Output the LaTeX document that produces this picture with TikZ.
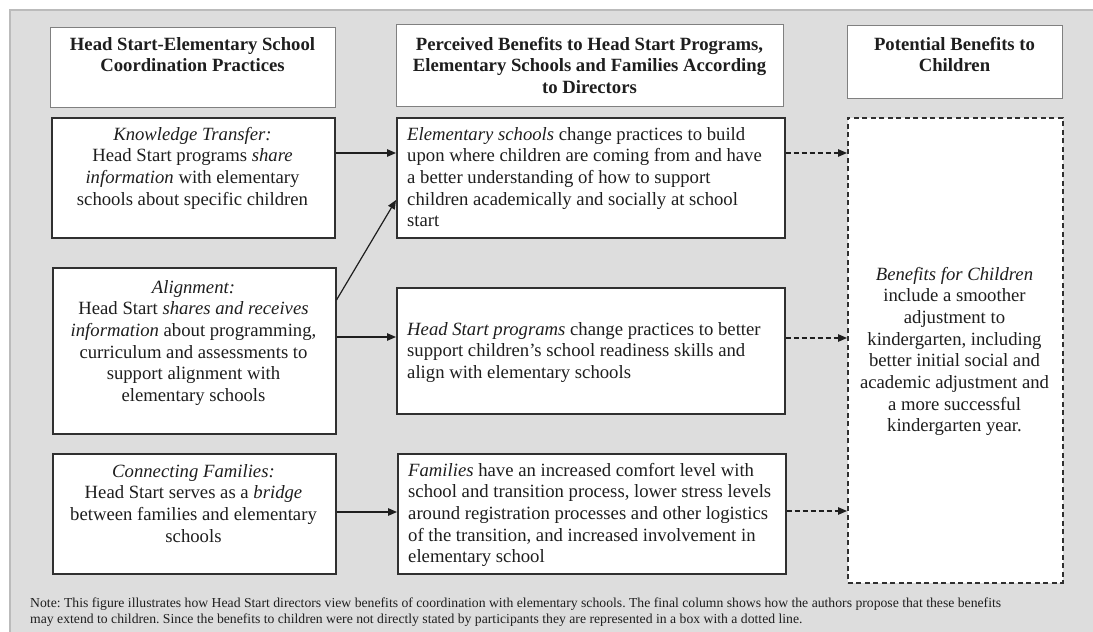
\documentclass[tikz,border=0pt]{standalone}
\usepackage{fontspec}
\setmainfont{Liberation Serif}
\usetikzlibrary{arrows.meta}
\definecolor{panel}{HTML}{DDDDDD}
\definecolor{panelline}{HTML}{BBBBBB}
\definecolor{ink}{HTML}{1E1E1E}
\definecolor{hdrline}{HTML}{808080}
\definecolor{boxline}{HTML}{303030}
\frenchspacing
\begin{document}
\begin{tikzpicture}[x=1pt,y=-1pt,
 hdr/.style={draw=hdrline, line width=1.1pt, fill=white, inner sep=0pt, anchor=north west},
 box/.style={draw=boxline, line width=1.5pt, fill=white, inner sep=0pt, anchor=north west},
 dbox/.style={box, dash pattern=on 5pt off 3.5pt},
 txt/.style={inner sep=0pt, anchor=base, align=center, text=ink, font=\fontsize{18.7}{21.7}\selectfont},
 ltxt/.style={txt, anchor=base west, align=left},
 htxt/.style={txt, font=\fontsize{18.7}{21.7}\selectfont\bfseries},
 notetxt/.style={inner sep=0pt, anchor=base west, align=left, text=ink, font=\fontsize{13.7}{16.5}\selectfont},
 conn/.style={draw=ink, line width=1.2pt, -{Triangle[length=9pt,width=7.5pt]}},
 dconn/.style={conn, dash pattern=on 5pt off 3pt},
]
\useasboundingbox (0,0) rectangle (1093,632);
% panel
\fill[panel] (10,10) rectangle (1100,640);
\draw[panelline, line width=1.5pt] (1100,10) -- (10,10) -- (10,640);

% headers (text nodes anchored at the baseline of their last line)
\node[hdr, minimum width=285pt, minimum height=80pt] (h1) at (50,27) {};
\node[hdr, minimum width=387pt, minimum height=82pt] (h2) at (396,24) {};
\node[hdr, minimum width=215pt, minimum height=73pt] (h3) at (847,25) {};
\node[htxt] (h1t) at (192.5,71.7) {Head Start-Elementary School\\Coordination Practices};
\node[htxt] (h2t) at (589.5,93.4) {Perceived Benefits to Head Start Programs,\\Elementary Schools and Families According\\to Directors};
\node[htxt] (h3t) at (954.5,71.7) {Potential Benefits to\\Children};

% left column
\node[box, minimum width=283pt, minimum height=120pt] (kt) at (51,117) {};
\node[box, minimum width=283pt, minimum height=166pt] (al) at (52,267) {};
\node[box, minimum width=283pt, minimum height=120pt] (cf) at (52,453) {};
\node[txt] (ktt) at (192.5,205.1) {\textit{Knowledge Transfer:}\\Head Start programs \textit{share}\\\textit{information} with elementary\\schools about specific children};
\node[txt] (alt) at (193.5,401.5) {\textit{Alignment:}\\Head Start \textit{shares and receives}\\\textit{information} about programming,\\curriculum and assessments to\\support alignment with\\elementary schools};
\node[txt] (cft) at (193.5,542.1) {\textit{Connecting Families:}\\Head Start serves as a \textit{bridge}\\between families and elementary\\schools};

% middle column
\node[box, minimum width=388pt, minimum height=120pt] (es) at (396,117) {};
\node[box, minimum width=388pt, minimum height=126pt] (hs) at (396,287) {};
\node[box, minimum width=388pt, minimum height=120pt] (fa) at (397,453) {};
\node[ltxt] (est) at (407,226.8) {\textit{Elementary schools} change practices to build\\upon where children are coming from and have\\a better understanding of how to support\\children academically and socially at school\\start};
\node[ltxt] (hst) at (407,378.4) {\textit{Head Start programs} change practices to better\\support children’s school readiness skills and\\align with elementary schools};
\node[ltxt] (fat) at (408,562.8) {\textit{Families} have an increased comfort level with\\school and transition process, lower stress levels\\around registration processes and other logistics\\of the transition, and increased involvement in\\elementary school};

% right column
\node[dbox, minimum width=215pt, minimum height=465pt] (ch) at (847,117) {};
\node[txt] (cht) at (954.5,431.9) {\textit{Benefits for Children}\\include a smoother\\adjustment to\\kindergarten, including\\better initial social and\\academic adjustment and\\a more successful\\kindergarten year.};

% connectors
\draw[conn] (kt.east |- 0,153) -- (es.west |- 0,153);
\draw[conn] (al.east |- 0,300) -- (es.west |- 0,200);
\draw[conn] (al.east |- 0,337) -- (hs.west |- 0,337);
\draw[conn] (cf.east |- 0,512) -- (fa.west |- 0,512);
\draw[dconn] (es.east |- 0,153) -- (ch.west |- 0,153);
\draw[dconn] (hs.east |- 0,338) -- (ch.west |- 0,338);
\draw[dconn] (fa.east |- 0,511) -- (ch.west |- 0,511);

% note
\node[notetxt] (note) at (30,623.5) {Note: This figure illustrates how Head Start directors view benefits of coordination with elementary schools. The final column shows how the authors propose that these benefits\\may extend to children. Since the benefits to children were not directly stated by participants they are represented in a box with a dotted line.};
\end{tikzpicture}
\end{document}
